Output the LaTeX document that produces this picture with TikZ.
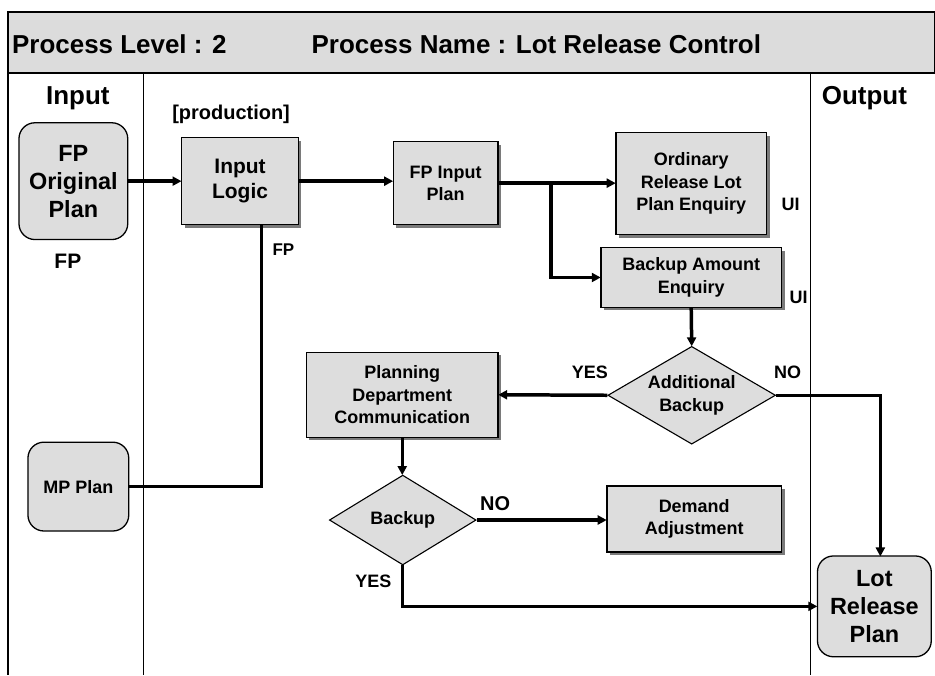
\documentclass[tikz,border=0pt]{standalone}
\usepackage{fontspec}
\setmainfont{Liberation Sans}
\usetikzlibrary{arrows.meta,shapes.geometric,shadows}
\definecolor{boxgray}{HTML}{DDDDDD}
\definecolor{headgray}{HTML}{DCDCDC}
\definecolor{shadowgray}{HTML}{7A7A7A}

\begin{document}
\begin{tikzpicture}[x=1pt,y=-1pt,
  f26/.style={font=\fontsize{26}{30}\selectfont\bfseries},
  f23/.style={font=\fontsize{23.5}{28}\selectfont\bfseries},
  f21/.style={font=\fontsize{21}{25}\selectfont\bfseries},
  f20/.style={font=\fontsize{20}{24}\selectfont\bfseries},
  f18/.style={font=\fontsize{18}{22.5}\selectfont\bfseries},
  f17/.style={font=\fontsize{17}{21}\selectfont\bfseries},
  procbox/.style={rectangle, draw=black, line width=1.3pt, fill=boxgray,
    inner sep=0pt, align=center,
    drop shadow={shadow xshift=3pt, shadow yshift=-3pt, fill=shadowgray, opacity=1}},
  termbox/.style={rectangle, rounded corners=16pt, draw=black, line width=1.3pt,
    fill=boxgray, inner sep=0pt, align=center},
  decision/.style={diamond, draw=black, line width=1.1pt, fill=boxgray,
    inner sep=0pt, align=center},
  lbl/.style={inner sep=0pt, align=center},
  frame/.style={draw=black, line width=1.5pt},
  conn/.style={draw=black, line width=3.5pt},
  flow/.style={conn, -{Triangle[length=9pt,width=9pt]}, shorten >=-0.5pt}
]
% page
\path[fill=white] (0,0) rectangle (935,675);

% header band and swimlane frame
\path[frame, fill=headgray] (8,12) -- (936,12) -- (936,73) -- (8,73) -- cycle;
\draw[frame] (8,73) -- (8,676);
\draw[frame] (144,73) -- (144,676);
\draw[frame] (812,73) -- (812,676);

\node[lbl, f26, anchor=west] (lvl) at (12,44) {Process Level : 2};
\node[lbl, f26, anchor=west] (pname) at (312,44) {Process Name : Lot Release Control};
\node[lbl, f26] (inhead) at (78,98) {Input};
\node[lbl, f26] (outhead) at (866,98) {Output};

% input column
\node[termbox, f23, minimum width=109, minimum height=117] (fpo) at (73.5,181.5) {FP\\Original\\Plan};
\node[lbl, f21] (fplbl) at (68,262) {FP};
\node[termbox, f18, minimum width=101, minimum height=89] (mp) at (78.5,487.5) {MP Plan};

% process column
\node[lbl, f20] (prod) at (231.5,115) {[production]};
\node[procbox, f21, minimum width=117, minimum height=87] (inlogic) at (240.5,181.5) {Input\\Logic};
\node[lbl, f17] (fplbl2) at (284,250) {FP};
\node[procbox, f18, minimum width=105, minimum height=83] (fpin) at (446.5,183.5) {FP Input\\Plan};
\node[procbox, f18, minimum width=151, minimum height=102] (ordinary) at (692.5,184) {Ordinary\\Release Lot\\Plan Enquiry};
\node[lbl, f18] (ui1) at (792,205) {UI};
\node[procbox, f18, minimum width=181, minimum height=60] (bae) at (692.5,278) {Backup Amount\\Enquiry};
\node[lbl, f18] (ui2) at (800,298) {UI};
\node[decision, f18, aspect=1.7, minimum width=168, minimum height=98] (addb) at (693,396) {Additional\\Backup};
\node[lbl, f18] (yes1) at (591,373) {YES};
\node[lbl, f18] (no1) at (789,373) {NO};
\node[procbox, f18, minimum width=192, minimum height=85] (plan) at (403,395.5) {Planning\\Department\\Communication};
\node[decision, f18, aspect=1.6, minimum width=147, minimum height=90] (bk) at (403.5,521) {Backup};
\node[lbl, f20] (no2) at (496,505) {NO};
\node[lbl, f18] (yes2) at (374,582) {YES};
\node[procbox, f18, minimum width=175, minimum height=66] (demand) at (695.5,520) {Demand\\Adjustment};

% output column
\node[termbox, f23, minimum width=114, minimum height=101] (lot) at (876,607.5) {Lot\\Release\\Plan};

% connectors
\coordinate (split) at (552,183.5);
\coordinate (mpjoin) at (262,225);
\coordinate (lotin) at (882,557);

\draw[flow] (fpo.east) -- (fpo.east -| inlogic.west);
\draw[flow] (inlogic.east) -- (inlogic.east -| fpin.west);
\draw[flow] (fpin.east) -- (fpin.east -| ordinary.west);
\draw[flow] (split) |- (bae.west);
\draw[conn] (mp.east) -| (mpjoin);
\draw[flow] (bae.south) -- (addb.north);
\draw[flow] (addb.west) -- (plan.east);
\draw[flow] (addb.east) -| (lotin);
\draw[flow] (plan.south) -- (plan.south |- bk.north);
\draw[flow] (bk.east) -- (bk.east -| demand.west);
\draw[flow] (bk.south) |- (lot.west);
\end{tikzpicture}
\end{document}
